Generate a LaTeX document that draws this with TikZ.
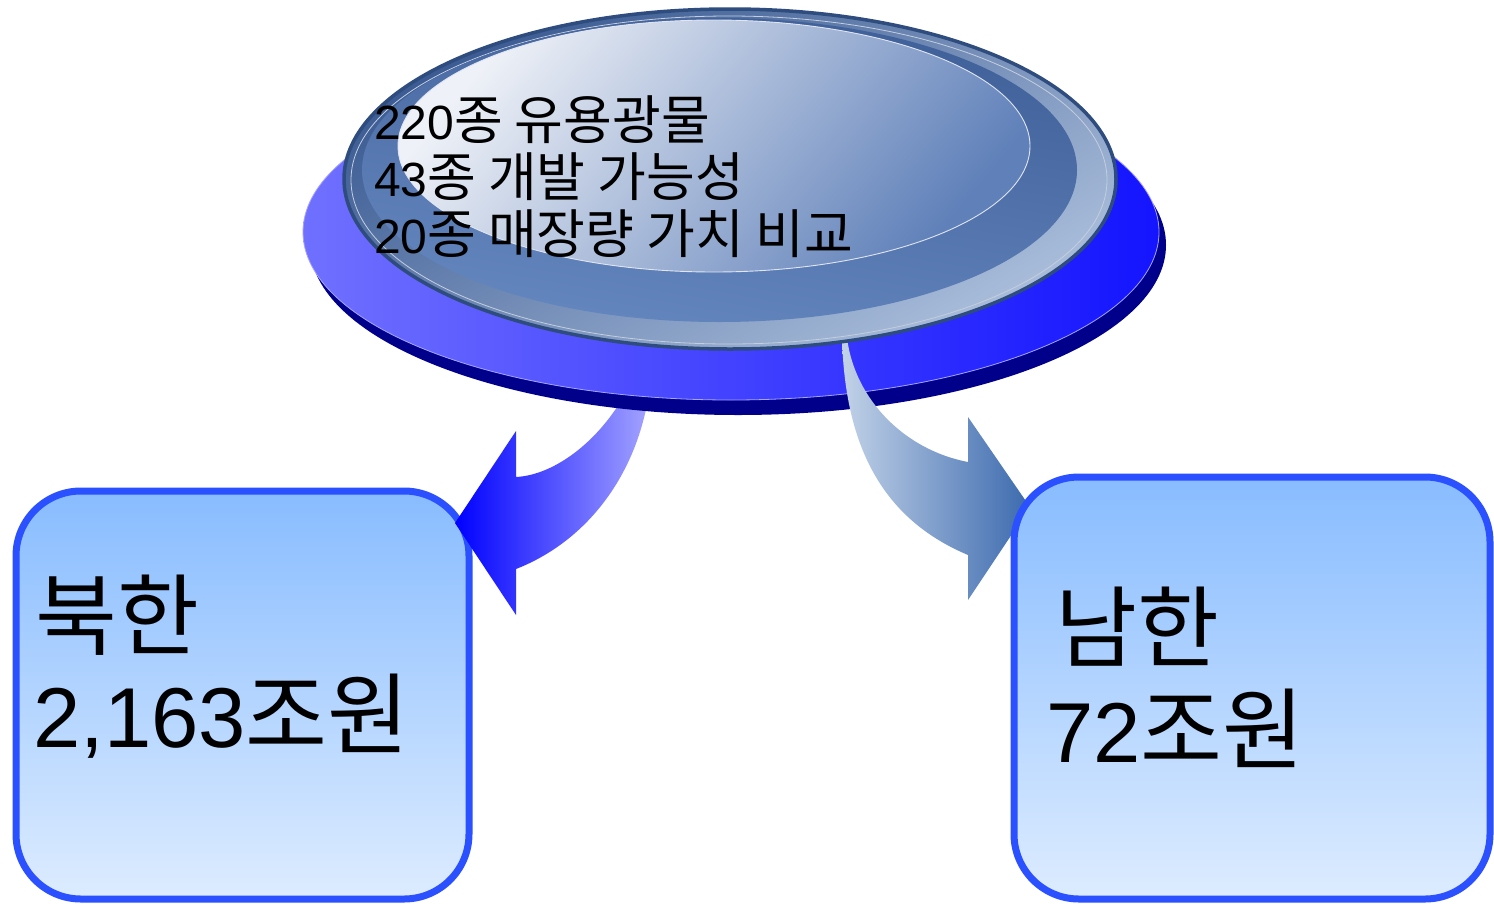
\documentclass[tikz,border=0pt]{standalone}
\usepackage{fontspec}
\setmainfont{Noto Sans CJK KR}
\newfontfamily\ar{Liberation Sans}
\newcommand\dgmid[1]{{\ar\fontsize{48}{57}\selectfont #1}}
\newcommand\dgbig[1]{{\ar\fontsize{85}{95}\selectfont #1}}
\definecolor{navyc}{HTML}{00008A}
\definecolor{baseL}{HTML}{7070FF}
\definecolor{baseR}{HTML}{1414FF}
\definecolor{rimdark}{HTML}{2F4C7E}
\definecolor{ringtop}{HTML}{3A5A92}
\definecolor{ringbot}{HTML}{AABEDB}
\definecolor{midL}{HTML}{3F5F98}
\definecolor{midR}{HTML}{6587BF}
\definecolor{intop}{HTML}{EEF1F7}
\definecolor{inmid}{HTML}{8299C6}
\definecolor{inbot}{HTML}{5F80B9}
\definecolor{boxline}{HTML}{2A50FF}
\definecolor{boxtop}{HTML}{88BCFF}
\definecolor{boxbot}{HTML}{DDECFF}
\definecolor{laL}{HTML}{0000FF}
\definecolor{laR}{HTML}{A4A4FF}
\definecolor{raL}{HTML}{C2D2E8}
\definecolor{raR}{HTML}{3C6AAE}
\begin{document}
\begin{tikzpicture}[x=1pt,y=-1pt,
  box/.style={draw=boxline, line width=7pt, rounded corners=65pt,
    top color=boxtop, bottom color=boxbot, inner sep=0pt},
  bigtxt/.style={anchor=base west, inner sep=0pt, font=\fontsize{89}{95}\selectfont},
  midtxt/.style={anchor=base west, inner sep=0pt, font=\fontsize{53}{57}\selectfont}]
\useasboundingbox (0,0) rectangle (1494,903);
\fill[white] (0,0) rectangle (1494,903);

% left box
\node[box, minimum width=453pt, minimum height=408pt] (nbox) at (242.5,695) {};

% left arrow (behind disc)
\shade[left color=laL, right color=laR]
  (516,477) .. controls (555,475) and (602,440) .. (630,385)
  -- (650,385) .. controls (640,470) and (590,540) .. (516,569)
  -- (516,615) -- (455,523) -- (516,431) -- cycle;

% base disc
\coordinate (disc) at (730,179);
\fill[navyc] (738,245) ellipse [x radius=428, y radius=170];
\shade[left color=baseL, right color=baseR, draw=laR, line width=0.8pt]
  (731,232) ellipse [x radius=428, y radius=168];

% right arrow
\shade[left color=raL, right color=raR]
  (842,338) .. controls (845,450) and (885,520) .. (968,555)
  -- (968,600) -- (1030,507) -- (968,417)
  -- (968,462) .. controls (905,450) and (855,400) .. (847,338) -- cycle;

% right box
\node[box, minimum width=476pt, minimum height=422pt] (sbox) at (1252,688) {};

% top glossy disc
\shade[top color=ringtop, bottom color=ringbot, shading angle=30]
  (730,179) ellipse [x radius=387, y radius=171];
\draw[rimdark, line width=3.5pt] (730,179) ellipse [x radius=386, y radius=170];
\draw[white!70!ringtop, line width=0.8pt] (729,180) ellipse [x radius=378, y radius=164];
\shade[left color=midL, right color=midR, shading angle=-10]
  (719.5,170) ellipse [x radius=357.5, y radius=152];
\shade[top color=intop, middle color=inmid, bottom color=inbot, shading angle=50]
  (714,146) ellipse [x radius=316, y radius=126];
\draw[white!75!inmid, line width=0.9pt] (714,146) ellipse [x radius=316, y radius=126];

% texts
\node[midtxt] (t1) at (374,139) {\dgmid{220}종 유용광물};
\node[midtxt] (t2) at (374,196) {\dgmid{43}종 개발 가능성};
\node[midtxt] (t3) at (374,253) {\dgmid{20}종 매장량 가치 비교};

\node[bigtxt] (nk1) at (35,648) {북한};
\node[bigtxt] (nk2) at (33,747) {\dgbig{2,163}조원};
\node[bigtxt] (sk1) at (1055,660) {남한};
\node[bigtxt] (sk2) at (1046,762) {\dgbig{72}조원};
\end{tikzpicture}
\end{document}
